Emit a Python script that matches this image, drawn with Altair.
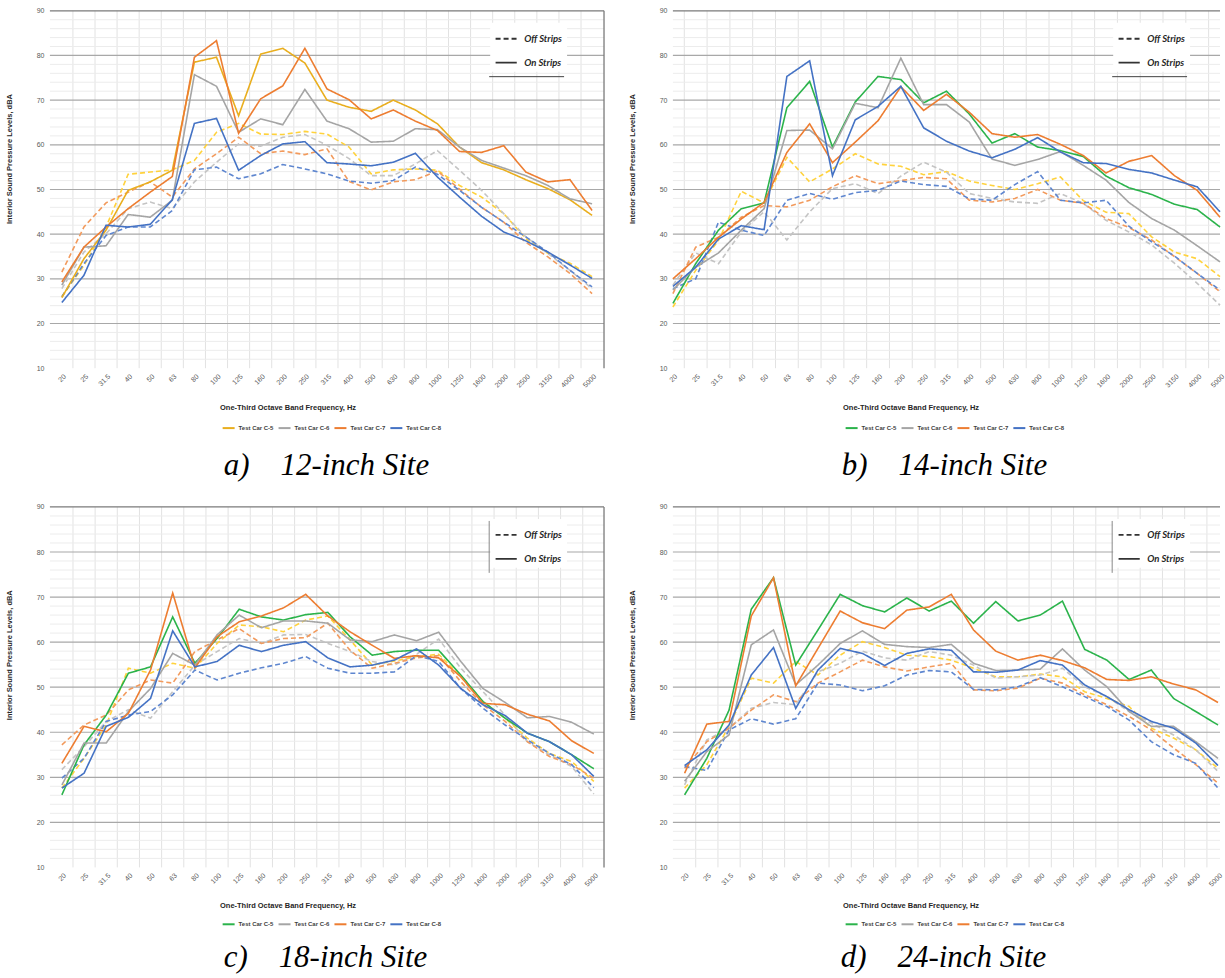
import json
import altair as alt
import pandas as pd

# One-third octave band centre frequencies (Hz)
FREQS = ["20", "25", "31.5", "40", "50", "63", "80", "100", "125", "160", "200",
         "250", "315", "400", "500", "630", "800", "1000", "1250", "1600", "2000",
         "2500", "3150", "4000", "5000"]
CARS = ["C-5", "C-6", "C-7", "C-8"]

# ---- 12-inch site -------------------------------------------------------
SITE12_ON = {
    "C-5": [25.8, 34.5, 40.9, 49.8, 51.7, 54.3, 78.5, 79.6, 66.5, 80.3, 81.6, 78.3, 70.0,
            68.4, 67.5, 70.0, 67.8, 64.7, 59.5, 56.0, 54.4, 52.2, 50.2, 47.7, 44.2],
    "C-6": [28.6, 37.1, 37.4, 44.4, 43.8, 47.6, 75.7, 73.1, 62.8, 65.8, 64.5, 72.4, 65.3,
            63.6, 60.6, 60.8, 63.6, 63.4, 59.5, 56.5, 54.8, 53.1, 50.9, 47.9, 46.8],
    "C-7": [29.3, 37.1, 41.6, 45.7, 49.4, 52.9, 79.6, 83.3, 62.6, 70.3, 73.2, 81.6, 72.5,
            70.1, 65.8, 67.8, 65.3, 63.2, 58.5, 58.3, 59.8, 53.9, 51.7, 52.2, 45.3],
    "C-8": [24.7, 30.8, 42.0, 41.6, 42.2, 47.7, 64.8, 65.9, 54.3, 57.6, 60.2, 60.7, 56.0,
            55.7, 55.3, 56.1, 58.1, 52.8, 48.3, 44.0, 40.5, 38.5, 36.0, 33.1, 30.1],
}
SITE12_OFF = {
    "C-5": [26.0, 33.0, 41.6, 53.4, 53.9, 54.4, 56.5, 62.8, 64.8, 62.4, 62.3, 63.0, 62.4,
            59.5, 53.5, 54.4, 54.6, 54.3, 50.9, 48.3, 44.6, 39.0, 35.7, 33.5, 30.5],
    "C-6": [27.8, 36.0, 40.1, 45.7, 47.2, 45.7, 51.7, 56.1, 60.2, 59.7, 61.7, 62.3, 59.9,
            56.9, 53.1, 53.1, 55.7, 58.7, 54.3, 49.8, 44.6, 39.4, 35.7, 31.9, 27.8],
    "C-7": [31.5, 41.6, 47.0, 49.4, 51.7, 48.3, 54.6, 58.0, 61.7, 58.0, 58.6, 57.8, 59.1,
            51.8, 49.9, 51.7, 52.2, 54.1, 50.1, 46.0, 42.7, 38.2, 34.9, 31.2, 26.7],
    "C-8": [26.0, 33.4, 39.7, 41.6, 41.6, 45.3, 54.4, 55.0, 52.4, 53.5, 55.6, 54.6, 53.5,
            51.9, 51.4, 52.0, 55.0, 53.4, 49.8, 46.0, 42.7, 39.4, 36.0, 31.9, 28.2],
}

# ---- 14-inch site -------------------------------------------------------
SITE14_ON = {
    "C-5": [24.5, 33.4, 40.9, 45.7, 47.0, 68.3, 74.2, 59.5, 69.6, 75.3, 74.6, 69.4, 72.0,
            66.9, 60.4, 62.5, 59.5, 58.7, 57.4, 53.0, 50.4, 48.9, 46.7, 45.5, 41.6],
    "C-6": [27.5, 32.6, 35.8, 40.9, 45.7, 63.2, 63.3, 59.1, 69.3, 68.3, 79.4, 69.0, 69.0,
            65.1, 56.8, 55.4, 56.7, 58.5, 55.4, 52.1, 47.1, 43.5, 40.9, 37.4, 33.8],
    "C-7": [30.0, 34.5, 39.3, 43.4, 47.1, 58.3, 64.7, 56.0, 60.6, 65.4, 73.0, 67.7, 71.3,
            67.3, 62.5, 61.7, 62.3, 60.1, 57.6, 53.7, 56.3, 57.6, 53.1, 49.8, 43.8],
    "C-8": [28.3, 32.6, 38.9, 41.9, 41.0, 75.3, 78.8, 53.1, 65.6, 68.6, 73.1, 63.8, 60.8,
            58.6, 57.1, 59.0, 61.6, 58.4, 56.0, 55.8, 54.5, 53.7, 52.1, 50.6, 45.0],
}
SITE14_OFF = {
    "C-5": [23.7, 31.9, 38.6, 49.6, 47.0, 57.2, 51.7, 54.6, 58.0, 55.7, 55.2, 53.3, 54.0,
            51.9, 50.9, 50.0, 51.3, 52.8, 47.5, 44.9, 44.6, 39.4, 36.0, 34.5, 30.5],
    "C-6": [28.6, 35.8, 33.4, 40.5, 45.0, 38.7, 45.0, 50.2, 51.3, 49.1, 53.0, 56.1, 53.9,
            49.1, 48.0, 47.2, 46.9, 49.1, 46.9, 43.1, 40.5, 37.6, 33.5, 29.0, 24.1],
    "C-7": [26.7, 37.1, 39.3, 43.8, 46.4, 46.1, 47.6, 50.6, 53.1, 51.3, 52.0, 52.7, 52.4,
            47.6, 47.2, 48.0, 50.0, 47.6, 46.9, 43.5, 41.5, 38.7, 35.0, 31.2, 27.1],
    "C-8": [27.8, 30.0, 42.7, 40.9, 39.7, 47.6, 49.1, 47.8, 49.3, 49.8, 51.9, 51.1, 50.7,
            47.9, 47.6, 51.1, 54.0, 47.6, 47.0, 47.6, 41.8, 38.3, 35.1, 31.2, 27.5],
}

# ---- 18-inch site -------------------------------------------------------
SITE18_ON = {
    "C-5": [26.1, 37.2, 43.8, 53.1, 54.5, 65.6, 55.3, 60.8, 67.3, 65.6, 64.9, 66.1, 66.6,
            61.2, 57.1, 57.9, 58.2, 58.2, 52.7, 46.8, 43.1, 39.8, 37.9, 35.0, 31.9],
    "C-6": [28.3, 37.6, 37.6, 44.6, 49.7, 57.5, 54.9, 61.6, 66.0, 63.2, 64.7, 64.7, 64.2,
            60.5, 60.1, 61.6, 60.3, 62.2, 55.7, 49.7, 46.6, 43.2, 43.5, 42.2, 39.6],
    "C-7": [33.1, 41.3, 40.1, 44.2, 53.8, 70.9, 54.3, 61.2, 64.5, 65.8, 67.6, 70.6, 65.8,
            62.3, 59.3, 56.4, 57.0, 56.5, 52.3, 46.4, 46.1, 44.0, 42.5, 38.1, 35.3],
    "C-8": [27.6, 30.9, 41.3, 43.3, 47.5, 62.5, 54.5, 55.7, 59.3, 57.9, 59.3, 60.1, 56.5,
            54.5, 54.9, 56.0, 58.5, 54.9, 49.7, 46.1, 43.7, 39.8, 37.9, 35.0, 30.2],
}
SITE18_OFF = {
    "C-5": [27.6, 34.2, 41.6, 54.2, 53.1, 55.3, 54.2, 59.7, 63.8, 63.4, 62.3, 64.9, 65.8,
            60.5, 54.9, 55.8, 56.8, 57.3, 52.3, 46.8, 43.1, 38.7, 35.3, 33.5, 29.1],
    "C-6": [31.7, 36.8, 42.4, 45.0, 43.1, 49.0, 54.9, 57.9, 60.8, 59.7, 61.6, 61.7, 59.7,
            57.9, 55.7, 54.9, 57.3, 60.7, 54.2, 49.0, 43.8, 37.9, 35.0, 32.4, 26.3],
    "C-7": [37.2, 41.6, 43.8, 49.4, 51.6, 50.9, 57.9, 60.5, 63.0, 59.7, 60.8, 61.0, 64.2,
            58.2, 54.2, 55.3, 56.5, 57.0, 51.2, 46.1, 42.4, 37.9, 34.6, 32.8, 29.8],
    "C-8": [29.8, 34.2, 42.4, 43.8, 44.6, 48.3, 53.8, 51.6, 53.1, 54.3, 55.3, 56.8, 54.2,
            53.1, 53.1, 53.4, 57.0, 55.7, 49.7, 45.3, 41.6, 38.3, 35.3, 32.8, 27.7],
}

# ---- 24-inch site -------------------------------------------------------
SITE24_ON = {
    "C-5": [26.1, 34.2, 44.9, 67.3, 74.3, 54.9, 62.7, 70.6, 68.1, 66.7, 69.8, 66.9, 69.1,
            64.2, 69.0, 64.7, 66.0, 69.1, 58.4, 56.0, 51.7, 53.8, 47.5, 44.6, 41.6],
    "C-6": [29.1, 35.7, 39.4, 59.4, 62.7, 50.5, 54.9, 59.7, 62.5, 59.5, 59.0, 58.8, 59.5,
            55.3, 53.7, 53.8, 54.0, 58.5, 53.8, 50.1, 44.6, 41.3, 41.3, 37.9, 34.2],
    "C-7": [30.9, 41.8, 42.4, 65.8, 74.3, 50.3, 58.6, 66.9, 64.3, 63.0, 67.1, 67.8, 70.6,
            62.7, 58.0, 56.0, 57.1, 55.9, 54.3, 51.7, 51.5, 52.3, 50.7, 49.4, 46.6],
    "C-8": [32.6, 36.1, 41.6, 52.7, 58.8, 45.3, 53.8, 58.6, 57.5, 54.8, 57.5, 58.5, 58.2,
            53.4, 53.3, 53.8, 55.9, 54.9, 50.5, 47.9, 45.0, 42.4, 40.9, 37.6, 32.6],
}
SITE24_OFF = {
    "C-5": [27.6, 32.8, 41.3, 52.0, 50.9, 55.7, 52.7, 57.1, 60.1, 58.8, 57.1, 56.8, 56.0,
            54.2, 52.3, 52.3, 52.9, 52.3, 49.0, 47.5, 45.7, 40.9, 38.7, 36.1, 32.0],
    "C-6": [28.3, 38.3, 40.9, 45.3, 46.6, 46.1, 53.4, 55.3, 58.0, 56.5, 56.0, 57.9, 57.1,
            54.9, 52.0, 52.3, 52.7, 54.2, 50.1, 47.9, 44.6, 42.0, 39.4, 36.1, 31.3],
    "C-7": [32.0, 37.9, 40.9, 44.9, 48.3, 46.8, 50.9, 53.4, 56.0, 54.5, 53.6, 54.5, 55.3,
            49.4, 49.2, 49.8, 52.0, 50.9, 48.3, 46.1, 43.5, 40.5, 36.5, 32.8, 28.7],
    "C-8": [32.4, 31.5, 40.5, 43.0, 41.8, 43.0, 50.9, 50.5, 49.2, 50.3, 52.7, 53.7, 53.4,
            49.5, 49.4, 50.1, 52.1, 50.1, 47.9, 45.7, 42.7, 37.9, 35.0, 33.1, 27.6],
}

# ---- colours -------------------------------------------------------------
ON_COLORS_GOLD = {"C-5": "#E9AE1E", "C-6": "#A5A5A5", "C-7": "#ED7D31", "C-8": "#4472C4"}
ON_COLORS_GREEN = {"C-5": "#2BB34B", "C-6": "#A5A5A5", "C-7": "#ED7D31", "C-8": "#4472C4"}
OFF_COLORS = {"C-5": "#FFD23C", "C-6": "#C4C4C4", "C-7": "#F29A5C", "C-8": "#5E86CF"}

CONDITIONS = ["Off Strips", "On Strips"]
Y_DOMAIN = [10, 90]
LABEL_FONT = "Liberation Sans"
CAPTION_FONT = "Liberation Serif"


def build_frame(on, off):
    rows = []
    for cond, src in (("Off Strips", off), ("On Strips", on)):
        for car in CARS:
            for i, v in enumerate(src[car]):
                rows.append({"idx": i, "spl": v, "car": car, "cond": cond,
                             "series": f"{car}|{cond}"})
    return pd.DataFrame(rows)


def panel(on, off, on_colors, caption, xdom, width, height, cap_x, cap_y,
          title_y, right_border, box_rule):
    df = build_frame(on, off)
    keys, cols = [], []
    for cond in CONDITIONS:
        for car in CARS:
            keys.append(f"{car}|{cond}")
            cols.append(on_colors[car] if cond == "On Strips" else OFF_COLORS[car])
    on_keys = [f"{car}|On Strips" for car in CARS]

    xscale = alt.Scale(domain=xdom, nice=False, zero=False)
    yscale = alt.Scale(domain=Y_DOMAIN, nice=False, zero=False)

    # identical axis definitions are given to every layer so that they merge
    xaxis = alt.Axis(
        values=list(range(len(FREQS))),
        labelExpr=f"{json.dumps(FREQS)}[datum.value]",
        labelAngle=-45, labelFontSize=7, labelColor="#595959", labelFont=LABEL_FONT,
        labelPadding=4, labelOverlap=False, labelFlush=False,
        grid=False, ticks=False, domain=False,
        title="One-Third Octave Band Frequency, Hz", titleFont=LABEL_FONT,
        titleFontSize=7.5, titleFontWeight="bold", titleColor="#262626",
        titleX=238, titleY=title_y, titleAlign="center", titleBaseline="middle",
    )
    yaxis = alt.Axis(
        values=list(range(10, 91, 10)), grid=False, ticks=False, domain=False,
        labelFontSize=7, labelColor="#595959", labelFont=LABEL_FONT, labelPadding=6,
        title="Interior Sound Pressure Levels, dBA", titleFont=LABEL_FONT,
        titleFontSize=7.5, titleFontWeight="bold", titleColor="#262626",
        titleX=-40, titleY=148, titleAlign="center", titleBaseline="middle",
    )

    bounds = pd.DataFrame({"b": [i + 0.5 for i in range(len(FREQS) - 1)]})
    minor = pd.DataFrame({"v": [v for v in range(12, 90, 2) if v % 10]})
    major = pd.DataFrame({"v": list(range(20, 81, 10))})
    top = pd.DataFrame({"v": [90]})

    vgrid = alt.Chart(bounds).mark_rule(color="#e2e2e2", strokeWidth=1).encode(
        x=alt.X("b:Q", scale=xscale, axis=xaxis))
    hminor = alt.Chart(minor).mark_rule(color="#ececec", strokeWidth=1).encode(
        y=alt.Y("v:Q", scale=yscale, axis=yaxis))
    hmajor = alt.Chart(major).mark_rule(color="#a8a8a8", strokeWidth=1.2).encode(
        y=alt.Y("v:Q", scale=yscale, axis=yaxis))
    htop = alt.Chart(top).mark_rule(color="#7a7a7a", strokeWidth=1.3).encode(
        y=alt.Y("v:Q", scale=yscale, axis=yaxis))

    lines = alt.Chart(df).mark_line(strokeWidth=1.6).encode(
        x=alt.X("idx:Q", scale=xscale, axis=xaxis),
        y=alt.Y("spl:Q", scale=yscale, axis=yaxis),
        color=alt.Color(
            "series:N",
            scale=alt.Scale(domain=keys, range=cols),
            legend=alt.Legend(
                values=on_keys, title=None, orient="none", legendX=172, legendY=411,
                direction="horizontal", symbolType="stroke", symbolSize=144,
                symbolStrokeWidth=2, labelFont=LABEL_FONT, labelFontSize=6,
                labelFontWeight="bold", labelColor="#404040", labelOffset=3,
                columnPadding=1, padding=0,
                labelExpr="'Test Car ' + split(datum.label, '|')[0]",
            ),
        ),
        strokeDash=alt.StrokeDash(
            "cond:N",
            scale=alt.Scale(domain=CONDITIONS, range=[[5, 3], [1, 0]]),
            legend=alt.Legend(
                title=None, orient="none", legendX=441, legendY=12,
                direction="vertical", symbolType="stroke", symbolSize=450,
                symbolStrokeWidth=1.8, symbolStrokeColor="#333333",
                labelFont="Lato", labelFontSize=9.5, labelFontStyle="italic",
                labelFontWeight="bold", labelColor="#262626", labelOffset=6,
                rowPadding=7, padding=4, fillColor="white",
            ),
        ),
    )

    one = pd.DataFrame({"k": [0]})
    layers = [vgrid, hminor, hmajor, htop, lines]
    if right_border:
        layers.append(alt.Chart(one).mark_rule(color="#7a7a7a", strokeWidth=1.3).encode(
            x=alt.value(width), y=alt.value(0), y2=alt.value(height)))
    if box_rule == "bottom":
        layers.append(alt.Chart(one).mark_rule(color="#404040", strokeWidth=1).encode(
            x=alt.value(440), x2=alt.value(515), y=alt.value(66)))
    else:
        layers.append(alt.Chart(one).mark_rule(color="#8a8a8a", strokeWidth=1).encode(
            x=alt.value(440), y=alt.value(14), y2=alt.value(66)))
    layers.append(
        alt.Chart(pd.DataFrame({"t": [caption]})).mark_text(
            font=CAPTION_FONT, fontStyle="italic", fontSize=31, color="black",
            align="center", baseline="alphabetic",
        ).encode(text="t:N", x=alt.value(cap_x), y=alt.value(cap_y))
    )
    return alt.layer(*layers).properties(width=width, height=height)


pa = panel(SITE12_ON, SITE12_OFF, ON_COLORS_GOLD, "a)\u200312-inch Site",
           [-0.54, 24.54], 555, 358, 277, 465, 39, True, "bottom")
pb = panel(SITE14_ON, SITE14_OFF, ON_COLORS_GREEN, "b)\u200314-inch Site",
           [0, 24], 548, 358, 272, 465, 39, False, "bottom")
pc = panel(SITE18_ON, SITE18_OFF, ON_COLORS_GREEN, "c)\u200318-inch Site",
           [-0.54, 24.46], 555, 361, 276, 461, 38, True, "left")
pd_ = panel(SITE24_ON, SITE24_OFF, ON_COLORS_GREEN, "d)\u200324-inch Site",
            [-0.526, 24.09], 548, 361, 271, 461, 38, False, "left")

chart = (
    alt.concat(pa, pb, pc, pd_, columns=2)
    .properties(spacing={"row": 139, "column": 69}, bounds="flush",
                padding={"left": 6, "top": 6, "right": 0, "bottom": 0})
    .resolve_scale(color="independent", strokeDash="independent")
    .resolve_legend(color="independent", strokeDash="independent")
    .configure_view(stroke=None)
)

chart.save("out.html", embed_options={"renderer": "svg", "actions": False})
